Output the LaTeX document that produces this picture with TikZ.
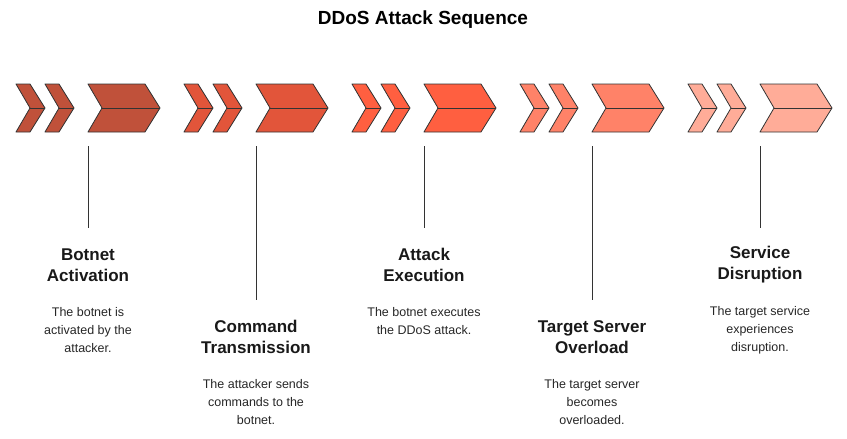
\documentclass[tikz,border=0pt]{standalone}
\usepackage{fontspec}
\setmainfont{Liberation Sans}
\begin{document}
\begin{tikzpicture}[x=1pt,y=-1pt,
  chev/.style={draw=black!80,line width=0.8pt,line join=round},
  stem/.style={draw=black!80,line width=1pt},
  ttl/.style={font=\fontsize{17}{21}\selectfont\bfseries,align=center,text=black!90},
  dsc/.style={font=\fontsize{12.5}{18}\selectfont,align=center,text=black!85}]
\useasboundingbox (0,0) rectangle (847,439);
\definecolor{c1}{HTML}{C0513A}
\definecolor{c2}{HTML}{E2553A}
\definecolor{c3}{HTML}{FF5F40}
\definecolor{c4}{HTML}{FF8268}
\definecolor{c5}{HTML}{FFAC98}
\node[font=\fontsize{19}{23}\selectfont\bfseries] (title) at (423,20) {DDoS Attack Sequence};
\newcommand{\chevgroup}[2]{%
 \begin{scope}[xshift=#1]
 \foreach \a/\b in {16/30, 45/59, 88/145}{
  \fill[#2,chev] (\a,84) -- (\b,84) -- (\b+15,108) -- (\b,132) -- (\a,132) -- (\a+14,108) -- cycle;
  \draw[chev] (\a+14,108) -- (\b+15,108);
 }
 \end{scope}}
\chevgroup{0}{c1}
\chevgroup{168}{c2}
\chevgroup{336}{c3}
\chevgroup{504}{c4}
\chevgroup{672}{c5}
\coordinate (s1) at (88,146); \coordinate (e1) at (88,228);
\coordinate (s2) at (256,146); \coordinate (e2) at (256,300);
\coordinate (s3) at (424,146); \coordinate (e3) at (424,228);
\coordinate (s4) at (592,146); \coordinate (e4) at (592,300);
\coordinate (s5) at (760,146); \coordinate (e5) at (760,228);
\foreach \i in {1,...,5} \draw[stem] (s\i) -- (e\i);
\node[ttl] (t1) at (88,265) {Botnet\\Activation};
\node[dsc] (d1) at (88,330) {The botnet is\\activated by the\\attacker.};
\node[ttl] (t2) at (256,337) {Command\\Transmission};
\node[dsc] (d2) at (256,402) {The attacker sends\\commands to the\\botnet.};
\node[ttl] (t3) at (424,265) {Attack\\Execution};
\node[dsc] (d3) at (424,321) {The botnet executes\\the DDoS attack.};
\node[ttl] (t4) at (592,337) {Target Server\\Overload};
\node[dsc] (d4) at (592,402) {The target server\\becomes\\overloaded.};
\node[ttl] (t5) at (760,265) {Service\\Disruption};
\node[dsc] (d5) at (760,330) {The target service\\experiences\\disruption.};
\end{tikzpicture}
\end{document}
